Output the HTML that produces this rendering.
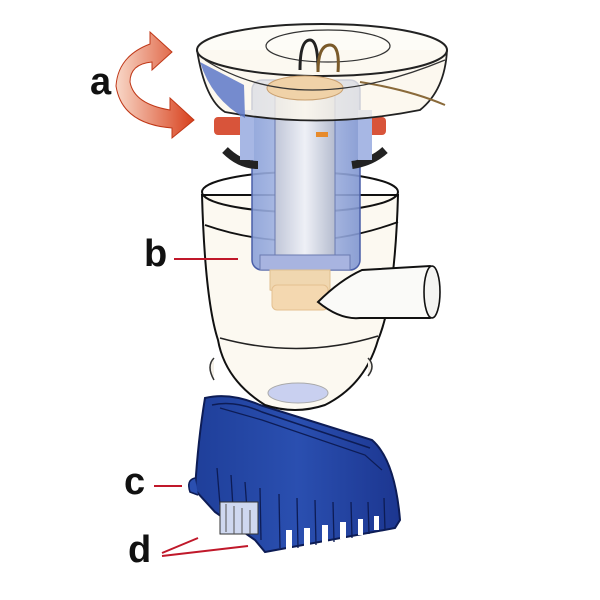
<!DOCTYPE html>
<html><head><meta charset="utf-8"><style>
html,body{margin:0;padding:0;background:#fff;width:600px;height:600px;overflow:hidden}
svg{display:block}
text{font-family:"Liberation Sans",sans-serif;font-weight:bold;fill:#111}
</style></head><body>
<svg width="600" height="600" viewBox="0 0 600 600" xmlns="http://www.w3.org/2000/svg">
<defs>
<linearGradient id="blue" x1="0" x2="1"><stop offset="0" stop-color="#1f3f9a"/><stop offset="0.5" stop-color="#2a4fb0"/><stop offset="1" stop-color="#1c3690"/></linearGradient>
<linearGradient id="mot" x1="0" x2="1"><stop offset="0" stop-color="#8aa0d8"/><stop offset="0.5" stop-color="#b8c6ea"/><stop offset="1" stop-color="#7f95d0"/></linearGradient>
<linearGradient id="sil" x1="0" x2="1"><stop offset="0" stop-color="#c0c6d8"/><stop offset="0.5" stop-color="#eef0f6"/><stop offset="1" stop-color="#b5bccf"/></linearGradient>
<linearGradient id="arr" x1="0" x2="1"><stop offset="0" stop-color="#f8d8c8"/><stop offset="1" stop-color="#d8401c"/></linearGradient>
</defs>
<!-- blue base -->
<path d="M205 398 Q230 392 260 405 L372 440 Q395 460 400 520 L395 528 L265 552 L255 540 L215 512 L195 490 Q198 440 205 398 Z" fill="url(#blue)" stroke="#0d1c55" stroke-width="2"/>
<path d="M212 405 Q235 400 262 412 L370 448" fill="none" stroke="#0d1c55" stroke-width="1.5"/>
<path d="M220 408 L262 420 L365 455 L382 470" fill="none" stroke="#0d1c55" stroke-width="1.2"/>
<g stroke="#0d1c55" stroke-width="1.3">
<line x1="217" y1="468" x2="220" y2="505"/><line x1="231" y1="475" x2="233" y2="508"/><line x1="245" y1="482" x2="247" y2="510"/><line x1="260" y1="488" x2="261" y2="540"/>
<line x1="279" y1="494" x2="280" y2="548"/><line x1="297" y1="498" x2="298" y2="548"/><line x1="315" y1="500" x2="316" y2="545"/><line x1="333" y1="502" x2="334" y2="542"/>
<line x1="351" y1="502" x2="352" y2="538"/><line x1="368" y1="502" x2="369" y2="534"/><line x1="384" y1="498" x2="385" y2="530"/>
</g>
<g fill="#fff">
<path d="M286 530 h6 v20 h-6z"/><path d="M304 528 h6 v20 h-6z"/><path d="M322 525 h6 v18 h-6z"/><path d="M340 522 h6 v17 h-6z"/><path d="M358 519 h5 v16 h-5z"/><path d="M374 516 h5 v14 h-5z"/>
</g>
<rect x="220" y="502" width="38" height="32" fill="#cfd8f0" stroke="#333" stroke-width="1"/>
<path d="M226 504v28M234 506v28M242 508v26M250 510v24" stroke="#555"/>
<path d="M195 478 Q186 480 190 492 L198 495" fill="#2a4fb0" stroke="#0d1c55" stroke-width="1.5"/>
<!-- housing -->
<path d="M202 195 Q205 300 218 340 Q225 380 265 405 Q295 415 325 405 Q365 385 378 340 Q395 300 398 195 Z" fill="#fcf8ee" fill-opacity="0.85" stroke="#111" stroke-width="2"/>
<ellipse cx="300" cy="192" rx="98" ry="20" fill="none" stroke="#111" stroke-width="2"/>
<path d="M205 225 Q300 258 398 222" fill="none" stroke="#111" stroke-width="1.8"/>
<path d="M220 338 Q300 360 378 336" fill="none" stroke="#222" stroke-width="1.5"/>
<ellipse cx="298" cy="393" rx="30" ry="10" fill="#c9d0f0" stroke="#aaa"/>
<path d="M214 358 q-8 8 0 22" fill="#f4f0e8" stroke="#333" stroke-width="1.5"/>
<path d="M368 358 q8 8 0 18" fill="#f4f0e8" stroke="#333" stroke-width="1.5"/>
<!-- motor -->
<rect x="252" y="80" width="108" height="190" rx="10" fill="url(#mot)" fill-opacity="0.9" stroke="#4a5fa8" stroke-width="1.5"/>
<rect x="275" y="95" width="60" height="175" fill="url(#sil)" stroke="#6a7ab0"/>
<rect x="260" y="255" width="90" height="15" fill="#a8b4e0" stroke="#6a7ab0"/>
<path d="M270 270 L270 290 Q300 300 330 290 L330 270 Z" fill="#f0d7b0" stroke="#e0c090"/>
<rect x="272" y="285" width="56" height="25" rx="5" fill="#f4d8b0" stroke="#e4c090"/>
<rect x="316" y="132" width="12" height="5" fill="#e78a2a"/>
<!-- side rings -->
<rect x="214" y="117" width="30" height="18" rx="4" fill="#d8543a"/>
<rect x="360" y="117" width="26" height="18" rx="4" fill="#d8543a"/>
<path d="M225 150 Q240 165 258 165" stroke="#222" stroke-width="8" fill="none"/>
<path d="M352 165 Q372 162 385 150" stroke="#222" stroke-width="8" fill="none"/>
<rect x="240" y="110" width="14" height="50" fill="#a7b7e4"/>
<rect x="358" y="110" width="14" height="50" fill="#a7b7e4"/>
<!-- top cap -->
<path d="M197 50 Q205 100 225 112 Q320 130 420 110 Q445 90 447 50" fill="#fbf6ea" fill-opacity="0.75" stroke="#222" stroke-width="1.8"/>
<path d="M200 62 Q212 100 245 118 L244 85 Z" fill="#5d78c8" fill-opacity="0.85"/>
<ellipse cx="322" cy="50" rx="125" ry="26" fill="#fcfaf2" fill-opacity="0.6" stroke="#222" stroke-width="2"/>
<ellipse cx="328" cy="46" rx="62" ry="16" fill="none" stroke="#333" stroke-width="1.2"/>
<path d="M300 70 Q300 40 310 40 Q318 40 318 70" fill="none" stroke="#222" stroke-width="3"/>
<path d="M318 72 Q318 45 330 45 Q340 45 338 72" fill="none" stroke="#7a5a2a" stroke-width="3"/>
<ellipse cx="305" cy="88" rx="38" ry="12" fill="#f0d2a8" stroke="#c9a070"/>
<path d="M360 82 Q410 90 445 105" stroke="#8a6a3a" stroke-width="2" fill="none"/>
<path d="M205 60 Q300 120 445 60" fill="none" stroke="#333" stroke-width="1.3"/>
<!-- pipe -->
<path d="M318 302 Q340 280 362 270 L430 266 Q442 290 430 318 L360 318 Q340 320 318 302 Z" fill="#fafaf8" stroke="#111" stroke-width="2"/>
<ellipse cx="432" cy="292" rx="8" ry="26" fill="#f4f4f2" stroke="#111" stroke-width="1.6"/>
<!-- arrow a -->
<path d="M150 32 L172 52 L152 70 L152 62 Q130 64 130 82 Q134 104 170 110 L170 98 L194 120 L172 138 L172 128 Q122 124 116 86 Q118 56 150 44 Z" fill="url(#arr)" stroke="#c03818" stroke-width="1"/>
<!-- labels -->
<text x="90" y="94" font-size="38">a</text>
<text x="144" y="266" font-size="38">b</text>
<text x="124" y="494" font-size="38">c</text>
<text x="128" y="562" font-size="38">d</text>
<g stroke="#c0182a" stroke-width="2">
<line x1="174" y1="259" x2="238" y2="259"/>
<line x1="154" y1="486" x2="182" y2="486"/>
<line x1="162" y1="553" x2="198" y2="538"/>
<line x1="162" y1="556" x2="248" y2="546"/>
</g>
</svg>
</body></html>
